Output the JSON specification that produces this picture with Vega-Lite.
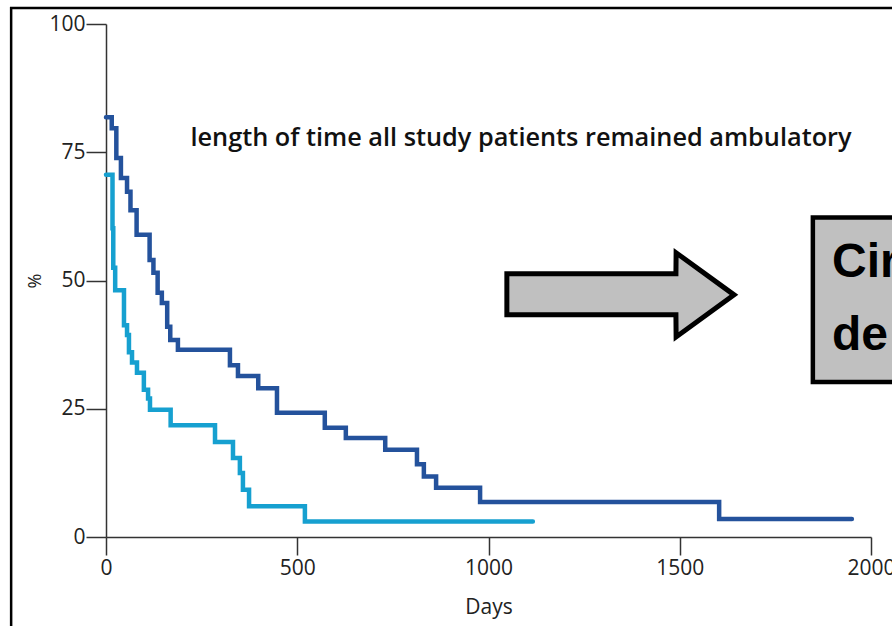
{
  "$schema": "https://vega.github.io/schema/vega-lite/v6.json",
  "width": 765,
  "height": 513,
  "autosize": "none",
  "padding": {"left": 106, "top": 24, "right": 21, "bottom": 89},
  "background": "white",
  "config": {"view": {"stroke": null}},
  "datasets": {
    "km": [
      {"group": "dark", "day": 0, "pct": 81.8},
      {"group": "dark", "day": 15, "pct": 79.7},
      {"group": "dark", "day": 27, "pct": 73.9},
      {"group": "dark", "day": 39, "pct": 70},
      {"group": "dark", "day": 55, "pct": 67.3},
      {"group": "dark", "day": 64, "pct": 63.7},
      {"group": "dark", "day": 80, "pct": 58.9},
      {"group": "dark", "day": 114, "pct": 54},
      {"group": "dark", "day": 124, "pct": 51.5},
      {"group": "dark", "day": 135, "pct": 47.6},
      {"group": "dark", "day": 146, "pct": 45.6},
      {"group": "dark", "day": 160, "pct": 41},
      {"group": "dark", "day": 168, "pct": 38.4},
      {"group": "dark", "day": 188, "pct": 36.5},
      {"group": "dark", "day": 324, "pct": 33.5},
      {"group": "dark", "day": 345, "pct": 31.4},
      {"group": "dark", "day": 398, "pct": 29},
      {"group": "dark", "day": 447, "pct": 24.2},
      {"group": "dark", "day": 572, "pct": 21.3},
      {"group": "dark", "day": 627, "pct": 19.3},
      {"group": "dark", "day": 730, "pct": 17},
      {"group": "dark", "day": 813, "pct": 14.2},
      {"group": "dark", "day": 831, "pct": 11.8},
      {"group": "dark", "day": 863, "pct": 9.6},
      {"group": "dark", "day": 978, "pct": 6.8},
      {"group": "dark", "day": 1603, "pct": 3.5},
      {"group": "dark", "day": 1950, "pct": 3.5},
      {"group": "light", "day": 0, "pct": 70.6},
      {"group": "light", "day": 17, "pct": 60.2},
      {"group": "light", "day": 19, "pct": 52.5},
      {"group": "light", "day": 24, "pct": 48.1},
      {"group": "light", "day": 47, "pct": 41.3},
      {"group": "light", "day": 55, "pct": 39.4},
      {"group": "light", "day": 60, "pct": 36},
      {"group": "light", "day": 68, "pct": 34},
      {"group": "light", "day": 81, "pct": 32},
      {"group": "light", "day": 99, "pct": 28.7},
      {"group": "light", "day": 110, "pct": 27},
      {"group": "light", "day": 115, "pct": 24.8},
      {"group": "light", "day": 169, "pct": 21.8},
      {"group": "light", "day": 285, "pct": 18.5},
      {"group": "light", "day": 332, "pct": 15.4},
      {"group": "light", "day": 350, "pct": 12.5},
      {"group": "light", "day": 358, "pct": 9.2},
      {"group": "light", "day": 374, "pct": 6},
      {"group": "light", "day": 520, "pct": 3},
      {"group": "light", "day": 1116, "pct": 3}
    ],
    "frame": [{"day": -248, "day2": 2400, "pct": 103.1, "pct2": -40}],
    "arrow": [
      {"day": 1048, "pct": 51.3, "pct2": 43.3},
      {"day": 1490, "pct": 51.3, "pct2": 43.3},
      {"day": 1490.5, "pct": 55.4, "pct2": 39.0},
      {"day": 1642, "pct": 47.2, "pct2": 47.2}
    ],
    "box": [{"day": 1848, "day2": 2500, "pct": 62.3, "pct2": 30.2}],
    "boxtext": [
      {"day": 1898, "pct": 50.7, "label": "Cir"},
      {"day": 1898, "pct": 36.5, "label": "de"}
    ],
    "note": [{"day": 1085, "pct": 77.8, "label": "length of time all study patients remained ambulatory"}]
  },
  "encoding": {
    "x": {
      "field": "day", "type": "quantitative",
      "scale": {"domain": [0, 2000], "nice": false, "zero": false},
      "axis": {
        "values": [0, 500, 1000, 1500, 2000], "format": "d", "title": "Days", "grid": false,
        "domainColor": "#333", "domainWidth": 1.5, "tickColor": "#333", "tickWidth": 1.5, "tickSize": 18,
        "labelFont": "Open Sans", "labelFontSize": 21, "labelColor": "#222", "labelPadding": 2,
        "labelFlush": false, "labelOverlap": false,
        "titleFont": "Open Sans", "titleFontSize": 21, "titleFontWeight": "normal", "titleColor": "#222", "titlePadding": 18
      }
    },
    "y": {
      "field": "pct", "type": "quantitative",
      "scale": {"domain": [0, 100], "nice": false, "zero": false},
      "axis": {
        "values": [0, 25, 50, 75, 100], "title": "%", "grid": false,
        "domainColor": "#333", "domainWidth": 1.5, "tickColor": "#333", "tickWidth": 1.5, "tickSize": 20,
        "labelFont": "Open Sans", "labelFontSize": 21, "labelColor": "#222", "labelPadding": 1,
        "labelFlush": false, "labelOverlap": false,
        "titleFont": "Open Sans", "titleFontSize": 18, "titleFontWeight": "normal", "titleColor": "#222", "titlePadding": 4
      }
    }
  },
  "layer": [
    {
      "data": {"name": "frame"},
      "mark": {"type": "rect", "fill": "transparent", "stroke": "black", "strokeWidth": 2.5, "clip": false},
      "encoding": {"x2": {"field": "day2"}, "y2": {"field": "pct2"}}
    },
    {
      "data": {"name": "km"},
      "mark": {"type": "line", "interpolate": "step-after", "strokeWidth": 4.5, "strokeCap": "round", "strokeJoin": "miter", "clip": false},
      "encoding": {
        "color": {"field": "group", "type": "nominal", "scale": {"domain": ["dark", "light"], "range": ["#24529c", "#16a0d0"]}, "legend": null}
      }
    },
    {
      "data": {"name": "arrow"},
      "mark": {"type": "area", "interpolate": "linear", "fill": "#c0c0c0", "fillOpacity": 1, "stroke": "black", "strokeWidth": 5, "strokeJoin": "miter", "strokeMiterLimit": 10, "clip": false},
      "encoding": {"y2": {"field": "pct2"}}
    },
    {
      "data": {"name": "box"},
      "mark": {"type": "rect", "fill": "#c0c0c0", "stroke": "black", "strokeWidth": 4.5, "clip": false},
      "encoding": {"x2": {"field": "day2"}, "y2": {"field": "pct2"}}
    },
    {
      "data": {"name": "boxtext"},
      "mark": {"type": "text", "font": "Liberation Sans", "fontWeight": "bold", "fontSize": 48, "align": "left", "baseline": "alphabetic", "color": "black", "clip": false},
      "encoding": {"text": {"field": "label"}}
    },
    {
      "data": {"name": "note"},
      "mark": {"type": "text", "font": "Open Sans", "fontWeight": 600, "fontSize": 25.3, "align": "center", "baseline": "middle", "color": "#111", "clip": false},
      "encoding": {"text": {"field": "label"}}
    }
  ]
}
